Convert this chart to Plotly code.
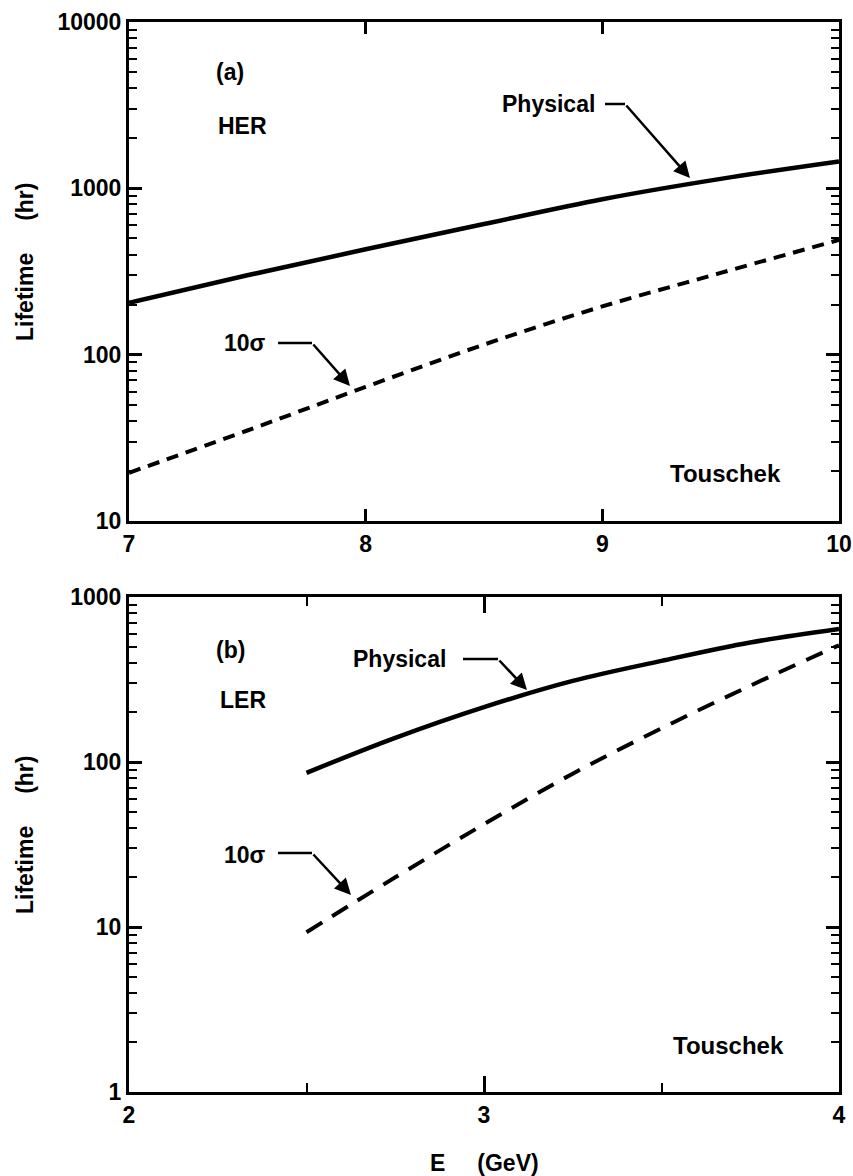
import plotly.graph_objects as go

# ---- data ----
her_energy = [7.0, 7.5, 8.0, 8.5, 9.0, 9.5, 10.0]
her_physical = [205, 300, 430, 610, 860, 1140, 1450]
her_10sigma = [19.5, 35, 64, 115, 195, 310, 490]

ler_energy = [2.5, 2.75, 3.0, 3.25, 3.5, 3.75, 4.0]
ler_physical = [86, 140, 215, 310, 410, 530, 640]
ler_10sigma = [9.3, 20, 42, 85, 160, 290, 510]

her_yticks = [10, 100, 1000, 10000]
ler_yticks = [1, 10, 100, 1000]
her_xticks = [7, 8, 9, 10]
ler_xticks = [2, 3, 4]
minor_mult = [2, 3, 4, 5, 6, 7, 8, 9]

W, H = 853, 1176
FONT = "Liberation Sans, Arial, sans-serif"
NB = "\u00a0"

def px(x):
    return x / W

def py(y):
    return 1 - y / H

def minor_vals(ticks):
    return [t * m for t in ticks[:-1] for m in minor_mult]

fig = go.Figure()

fig.add_trace(go.Scatter(x=her_energy, y=her_physical, mode="lines", line=dict(color="black", width=4.5, shape="spline"), xaxis="x", yaxis="y", showlegend=False))
fig.add_trace(go.Scatter(x=her_energy, y=her_10sigma, mode="lines", line=dict(color="black", width=4, dash="12px,8px", shape="spline"), xaxis="x", yaxis="y", showlegend=False))
fig.add_trace(go.Scatter(x=ler_energy, y=ler_physical, mode="lines", line=dict(color="black", width=4.5, shape="spline"), xaxis="x2", yaxis="y2", showlegend=False))
fig.add_trace(go.Scatter(x=ler_energy, y=ler_10sigma, mode="lines", line=dict(color="black", width=4, dash="18px,12px", shape="spline"), xaxis="x2", yaxis="y2", showlegend=False))

xd = [px(129), px(839)]
common_axis = dict(showline=True, linecolor="black", linewidth=3, mirror="ticks", ticks="inside",
                   tickcolor="black", tickwidth=2.5, showgrid=False, zeroline=False,
                   tickfont=dict(family=FONT, size=23, color="black", weight="bold"), automargin=False)

def minor_y(ticks):
    return dict(ticks="inside", ticklen=8, tickwidth=2, tickcolor="black", showgrid=False,
                tickvals=minor_vals(ticks))

fig.update_layout(
    width=W, height=H, margin=dict(l=0, r=0, t=0, b=0),
    paper_bgcolor="white", plot_bgcolor="white",
    xaxis=dict(domain=xd, range=[7, 10], tickvals=her_xticks, ticklen=12, anchor="y", **common_axis),
    yaxis=dict(domain=[py(521), py(22)], type="log", range=[1, 4], tickvals=her_yticks,
               ticktext=[str(v) for v in her_yticks], ticklen=13, minor=minor_y(her_yticks),
               anchor="x", **common_axis),
    xaxis2=dict(domain=xd, range=[2, 4], tickvals=ler_xticks, ticklen=16,
                minor=dict(ticks="inside", ticklen=9, tickwidth=2, tickcolor="black", dtick=0.5, showgrid=False),
                anchor="y2", **common_axis),
    yaxis2=dict(domain=[py(1092), py(597)], type="log", range=[0, 3], tickvals=ler_yticks,
                ticktext=[str(v) for v in ler_yticks], ticklen=13, minor=minor_y(ler_yticks),
                anchor="x2", **common_axis),
)

def label(text, x, y, size=23, xanchor="center", angle=0):
    fig.add_annotation(text=text, x=px(x), y=py(y), xref="paper", yref="paper", showarrow=False,
                       xanchor=xanchor, yanchor="middle", textangle=angle,
                       font=dict(family=FONT, size=size, color="black", weight="bold"))

def pointer(x0, x1, tipx, tipy, y):
    fig.add_shape(type="line", xref="paper", yref="paper", x0=px(x0), x1=px(x1), y0=py(y), y1=py(y),
                  line=dict(color="black", width=2.5))
    fig.add_annotation(text="", x=px(tipx), y=py(tipy), xref="paper", yref="paper", showarrow=True,
                       ax=x1 - tipx, ay=y - tipy, arrowhead=2, arrowsize=1.3, arrowwidth=2.5, arrowcolor="black")

# panel (a)
label("(a)", 230, 72)
label("HER", 243, 126)
label("Physical", 597, 104, xanchor="right")
pointer(605, 625, 690, 178, 104)
label("10σ", 268, 343, xanchor="right")
pointer(278, 312, 350, 386, 343)
label("Touschek", 783, 473, size=24, xanchor="right")

# panel (b)
label("(b)", 230, 650)
label("LER", 243, 700)
label("Physical", 448, 659, xanchor="right")
pointer(463, 498, 527, 690, 659)
label("10σ", 268, 855, xanchor="right")
pointer(278, 312, 351, 895, 853)
label("Touschek", 786, 1045, size=24, xanchor="right")

# axis titles
for yc in (262, 835):
    label("Lifetime" + NB * 5 + "(hr)", 25, yc, angle=-90)
label("E" + NB * 5 + "(GeV)", 484, 1163)

fig.write_html("out.html")
